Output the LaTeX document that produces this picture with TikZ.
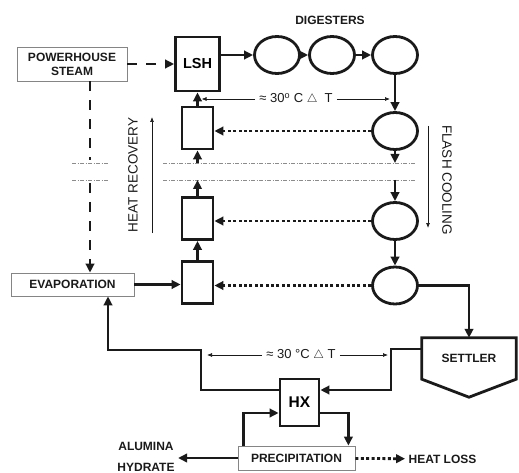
\documentclass[tikz,border=0pt]{standalone}
\usepackage{fontspec}
\setmainfont{Liberation Sans}
\usepackage{xcolor}
\usepackage{tikz}
\usetikzlibrary{positioning, arrows.meta, shapes.geometric, calc}
\definecolor{ink}{HTML}{1A1A1A}
\definecolor{frame}{HTML}{858585}
\definecolor{cut}{HTML}{8C8C8C}

\begin{document}
\begin{tikzpicture}[x=1pt, y=-1pt,
  lbl/.style={font=\fontsize{12}{14}\selectfont\bfseries, text=ink},
  note lbl/.style={font=\fontsize{13.5}{15}\selectfont, text=ink},
  heavy/.style={draw=ink, line width=2.8pt, line join=miter},
  unit/.style={heavy, rectangle, inner sep=0pt},
  vessel/.style={heavy, ellipse, inner sep=0pt, minimum width=45pt, minimum height=37pt},
  plant/.style={draw=frame, line width=0.8pt, rectangle, inner sep=0pt, lbl},
  flow/.style={heavy, -{Triangle[length=9pt, width=8.5pt]}},
  steamline/.style={flow, dash pattern=on 10pt off 9pt},
  heatline/.style={flow, dash pattern=on 3pt off 2.4pt},
  note/.style={draw=ink, line width=0.7pt, -{Latex[length=5pt, width=4pt]}},
  cutline/.style={draw=cut, line width=0.6pt, dash pattern=on 4pt off 1.5pt on 1pt off 1.5pt}]
  \useasboundingbox (0,0) rectangle (519,473);
  \def\colX{197.5}
  \def\flX{395}
  \coordinate (cutA) at (0,163);
  \coordinate (cutB) at (0,180);
  \foreach \y in {163,180} {
    \draw[cutline] (72,\y) -- (108,\y);
    \draw[cutline] (163,\y) -- (415,\y);
  }
  \node[plant, minimum width=110pt, minimum height=34pt, align=center] (steam) at (72,64) {POWERHOUSE\\STEAM};
  \node[unit, minimum width=44pt, minimum height=54pt, font=\fontsize{14.5}{16}\selectfont\bfseries] (lsh) at (\colX,64) {LSH};
  \node[lbl] (digtitle) at (330,20) {DIGESTERS};
  \foreach \n/\x in {1/277, 2/332, 3/395}
    \node[vessel] (dig\n) at (\x,55) {};
  \foreach \n/\y in {1/131, 2/221, 3/285.5}
    \node[vessel] (fl\n) at (\flX,\y) {};
  \foreach \n/\y in {1/128, 2/218.5, 3/282.5}
    \node[unit, minimum width=31pt, minimum height=42pt] (hr\n) at (\colX,\y) {};
  \node[plant, minimum width=123pt, minimum height=23pt] (evap) at (72.5,284.5) {EVAPORATION};
  \node[lbl, minimum width=94pt, minimum height=41pt] (settler) at (469,358.5) {SETTLER};
  \draw[heavy] (settler.north west) -- (settler.north east) -- (settler.south east)
    -- ($(settler.south)+(0,18)$) -- (settler.south west) -- cycle;
  \node[unit, minimum width=39pt, minimum height=47pt, font=\fontsize{15.5}{17}\selectfont\bfseries] (hx) at (299.5,402.5) {HX};
  \node[plant, minimum width=117pt, minimum height=24pt] (prec) at (296.5,458) {PRECIPITATION};
  \node[lbl, align=center] (alum) at (146,457) {ALUMINA\\[7pt]HYDRATE};
  \node[lbl] (loss) at (442.5,459) {HEAT LOSS};
  \node[note lbl, rotate=90] (hrtext) at (133,175) {HEAT RECOVERY};
  \node[note lbl, rotate=-90] (fctext) at (447,180) {FLASH COOLING};
  \node[font=\fontsize{13}{14}\selectfont, text=ink, inner sep=4pt] (dTa) at (296,99) {≈ 30\textsuperscript{o} C $\triangle$\ \ T};
  \node[font=\fontsize{13}{14}\selectfont, text=ink, inner sep=4pt] (dTb) at (301,355) {≈ 30 °C $\triangle$ T};

  \draw[steamline] (steam) -- (lsh);
  \coordinate (drop) at ($(steam.south)+(18,0)$);
  \draw[steamline, -] (drop) -- ($(drop |- cutA)+(0,-3)$);
  \draw[steamline] ($(drop |- cutB)+(0,3)$) -- (drop |- evap.north);
  \draw[flow] (lsh.east |- dig1.west) -- (dig1.west);
  \draw[flow] (dig1) -- (dig2);
  \draw[flow] (dig2) -- (dig3);
  \draw[flow] (dig3) -- (fl1);
  \draw[flow] (fl1) -- (fl1 |- cutA);
  \draw[flow] (fl1 |- cutB) -- (fl2);
  \draw[flow] (fl2) -- (fl3);
  \draw[flow] (fl3) -| (settler);
  \draw[flow] (evap.east) -- (evap.east -| hr3.west);
  \draw[flow] (hr3) -- (hr2);
  \draw[flow] (hr2) -- (hr2 |- cutB);
  \draw[flow] (hr1 |- cutA) -- (hr1);
  \draw[flow] (hr1) -- (lsh);
  \foreach \n in {1,2,3}
    \draw[heatline] (fl\n.west) -- (fl\n.west -| hr\n.east);
  \coordinate (riser) at (391,349);
  \coordinate (ret) at (201,350);
  \draw[flow] ([yshift=9.5pt]settler.west) -- (riser) |- ([yshift=12.5pt]hx.east);
  \draw[flow] ([yshift=12.5pt]hx.west) -| (ret) -| ([xshift=35.5pt]evap.south);
  \draw[flow] ([xshift=6pt]prec.north west) |- ([yshift=-10.5pt]hx.west);
  \draw[flow] ([yshift=-10.5pt]hx.east) -| ([xshift=-7pt]prec.north east);
  \draw[flow] (prec.west) -- (prec.west -| alum.east);
  \draw[heatline] (prec) -- (loss);

  \coordinate (hrlow) at (152,233);
  \coordinate (hrtop) at (152,117);
  \draw[note] (hrlow) -- (hrtop);
  \coordinate (fctop) at (428,126);
  \coordinate (fclow) at (428,228);
  \draw[note] (fctop) -- (fclow);
  \draw[note] (dTa.west) -- ($(lsh.south |- dTa.west)+(4,0)$);
  \draw[note] (dTa.east) -- ($(fl1.north |- dTa.east)+(-5,0)$);
  \draw[note] (dTb.west) -- ($(ret |- dTb.west)+(6,0)$);
  \draw[note] (dTb.east) -- ($(riser |- dTb.east)+(-3,0)$);
\end{tikzpicture}
\end{document}
